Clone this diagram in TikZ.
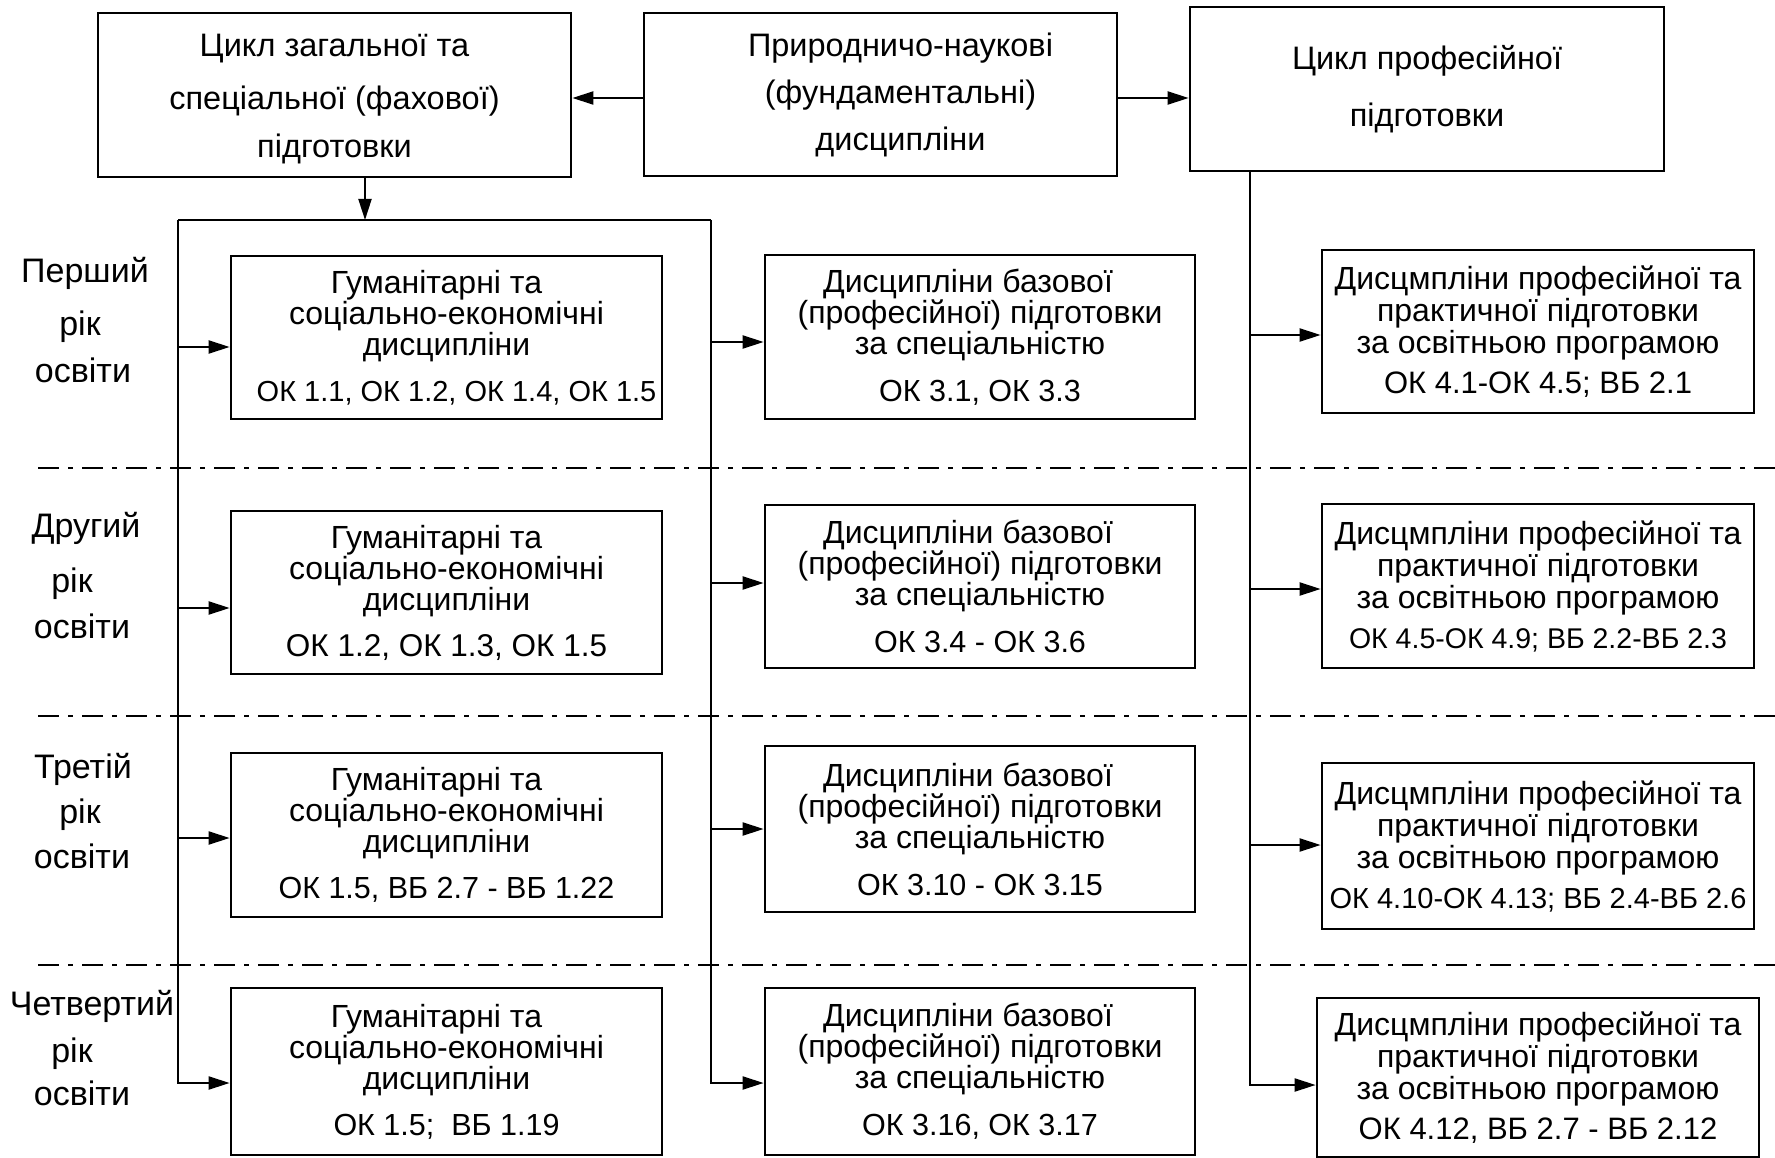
\documentclass[tikz,border=0pt]{standalone}
\usepackage{fontspec}
\setmainfont{Liberation Sans}
\usetikzlibrary{arrows.meta}
\newcommand{\okf}{\fontsize{30.5}{31}\selectfont}
\begin{document}
\begin{tikzpicture}[x=1pt,y=-1pt,
  box/.style={draw, line width=2.7pt, inner sep=0pt, align=center, font=\fontsize{32}{31}\selectfont},
  rbox/.style={box, font=\fontsize{32}{32}\selectfont},
  tbox/.style={box, font=\fontsize{32.5}{48}\selectfont},
  conn/.style={line width=2pt},
  arr/.style={conn, -{Triangle[length=21pt,width=13pt]}},
  sepline/.style={line width=2.5pt, dash pattern=on 21pt off 9pt on 5pt off 9pt},
  lbl/.style={anchor=base, inner sep=0pt, font=\fontsize{34}{34}\selectfont}]
\useasboundingbox (0,0) rectangle (1775,1158);

% top boxes
\node[tbox, minimum width=473pt, minimum height=164pt] (t1) at (334.5,95) {\rule{0pt}{30pt}Цикл загальної та\\[5pt]спеціальної (фахової)\\підготовки};
\node[tbox, minimum width=473pt, minimum height=163pt] (t2) at (880.5,94.5) {\hspace*{40pt}Природничо-наукові\\[-1pt]\hspace*{40pt}(фундаментальні)\\[-1pt]\hspace*{40pt}дисципліни};
\node[tbox, minimum width=474pt, minimum height=164pt] (t3) at (1427,89) {Цикл професійної\\[9pt]підготовки};

% humanities column
\node[box, minimum width=431pt, minimum height=163pt] (h1) at (446.5,337.5) {Гуманітарні та\hspace*{20pt}\\соціально-економічні\\дисципліни\\[15pt]{\fontsize{29}{31}\selectfont\hspace*{20pt}ОК 1.1, ОК 1.2, ОК 1.4, ОК 1.5}};
\node[box, minimum width=431pt, minimum height=163pt] (h2) at (446.5,592.5) {Гуманітарні та\hspace*{20pt}\\соціально-економічні\\дисципліни\\[15pt]{\fontsize{31.5}{31}\selectfont ОК 1.2, ОК 1.3, ОК 1.5}};
\node[box, minimum width=431pt, minimum height=164pt] (h3) at (446.5,835) {Гуманітарні та\hspace*{20pt}\\соціально-економічні\\дисципліни\\[15pt]{\okf ОК 1.5, ВБ 2.7 - ВБ 1.22}};
\node[box, minimum width=431pt, minimum height=167pt] (h4) at (446.5,1071.5) {Гуманітарні та\hspace*{20pt}\\соціально-економічні\\дисципліни\\[15pt]{\okf ОК 1.5;\ \ ВБ 1.19}};

% basic column
\node[box, minimum width=430pt, minimum height=164pt] (b1) at (980,337) {Дисципліни базової\hspace*{24pt}\\(професійної) підготовки\\за спеціальністю\hspace*{42pt}\\[16pt]{\okf ОК 3.1, ОК 3.3}};
\node[box, minimum width=430pt, minimum height=163pt] (b2) at (980,586.5) {Дисципліни базової\hspace*{24pt}\\(професійної) підготовки\\за спеціальністю\hspace*{42pt}\\[16pt]{\okf ОК 3.4 - ОК 3.6}};
\node[box, minimum width=430pt, minimum height=166pt] (b3) at (980,829) {Дисципліни базової\hspace*{24pt}\\(професійної) підготовки\\за спеціальністю\hspace*{42pt}\\[16pt]{\okf ОК 3.10 - ОК 3.15}};
\node[box, minimum width=430pt, minimum height=167pt] (b4) at (980,1071.5) {Дисципліни базової\hspace*{24pt}\\(професійної) підготовки\\за спеціальністю\hspace*{42pt}\\[16pt]{\okf ОК 3.16, ОК 3.17}};

% professional column
\node[rbox, minimum width=432pt, minimum height=163pt] (r1) at (1538,331.5) {Дисцмпліни професійної та\\практичної підготовки\hspace*{26pt}\\за освітньою програмою\\[8pt]{\fontsize{31}{32}\selectfont ОК 4.1-ОК 4.5; ВБ 2.1}};
\node[rbox, minimum width=432pt, minimum height=164pt] (r2) at (1538,586) {Дисцмпліни професійної та\\практичної підготовки\hspace*{26pt}\\за освітньою програмою\\[8pt]{\fontsize{28.5}{32}\selectfont ОК 4.5-ОК 4.9; ВБ 2.2-ВБ 2.3}};
\node[rbox, minimum width=432pt, minimum height=166pt] (r3) at (1538,846) {Дисцмпліни професійної та\\практичної підготовки\hspace*{26pt}\\за освітньою програмою\\[8pt]{\fontsize{29}{32}\selectfont ОК 4.10-ОК 4.13; ВБ 2.4-ВБ 2.6}};
\node[rbox, minimum width=442pt, minimum height=159pt] (r4) at (1538,1077.5) {Дисцмпліни професійної та\\практичної підготовки\hspace*{26pt}\\за освітньою програмою\\[8pt]{\fontsize{31}{32}\selectfont ОК 4.12, ВБ 2.7 - ВБ 2.12}};

% row labels
\node[lbl] (y1a) at (85,283) {Перший};
\node[lbl] (y1b) at (80,335) {рік};
\node[lbl] (y1c) at (83,382) {освіти};
\node[lbl] (y2a) at (86,537) {Другий};
\node[lbl] (y2b) at (72,592) {рік};
\node[lbl] (y2c) at (82,638) {освіти};
\node[lbl] (y3a) at (83,778) {Третій};
\node[lbl] (y3b) at (80,823) {рік};
\node[lbl] (y3c) at (82,868) {освіти};
\node[lbl] (y4a) at (92,1015) {Четвертий};
\node[lbl] (y4b) at (72,1062) {рік};
\node[lbl] (y4c) at (82,1105) {освіти};

% separators
\coordinate (s1l) at (38,468);  \coordinate (s1r) at (1775,468);
\coordinate (s2l) at (38,716);  \coordinate (s2r) at (1775,716);
\coordinate (s3l) at (38,965);  \coordinate (s3r) at (1775,965);
\draw[sepline] (s1l) -- (s1r);
\draw[sepline] (s2l) -- (s2r);
\draw[sepline] (s3l) -- (s3r);

% junction coordinates
\coordinate (tt) at (365,98);
\coordinate (dn) at (365,220);
\coordinate (Lt) at (178,220);
\coordinate (Rt) at (711,220);
\coordinate (a1) at (178,347);  \coordinate (a2) at (178,608);
\coordinate (a3) at (178,838);  \coordinate (a4) at (178,1083);
\coordinate (c1) at (711,342);  \coordinate (c2) at (711,583);
\coordinate (c3) at (711,829);  \coordinate (c4) at (711,1083);
\coordinate (Pt) at (1250,98);
\coordinate (p1) at (1250,335); \coordinate (p2) at (1250,589);
\coordinate (p3) at (1250,845); \coordinate (p4) at (1250,1085);

% top connectors
\draw[arr] (t2.west |- tt) -- (t1.east |- tt);
\draw[arr] (t2.east |- tt) -- (t3.west |- tt);
\draw[arr] (t1.south -| dn) -- (dn);

% left frame
\draw[conn] (Lt) -- (Rt);
\draw[arr] (Lt) -- (a4) -- (a4 -| h4.west);
\draw[arr] (a1) -- (a1 -| h1.west);
\draw[arr] (a2) -- (a2 -| h2.west);
\draw[arr] (a3) -- (a3 -| h3.west);
\draw[arr] (Rt) -- (c4) -- (c4 -| b4.west);
\draw[arr] (c1) -- (c1 -| b1.west);
\draw[arr] (c2) -- (c2 -| b2.west);
\draw[arr] (c3) -- (c3 -| b3.west);

% right line
\draw[arr] (t3.south -| Pt) -- (p4) -- (p4 -| r4.west);
\draw[arr] (p1) -- (p1 -| r1.west);
\draw[arr] (p2) -- (p2 -| r2.west);
\draw[arr] (p3) -- (p3 -| r3.west);
\end{tikzpicture}
\end{document}
